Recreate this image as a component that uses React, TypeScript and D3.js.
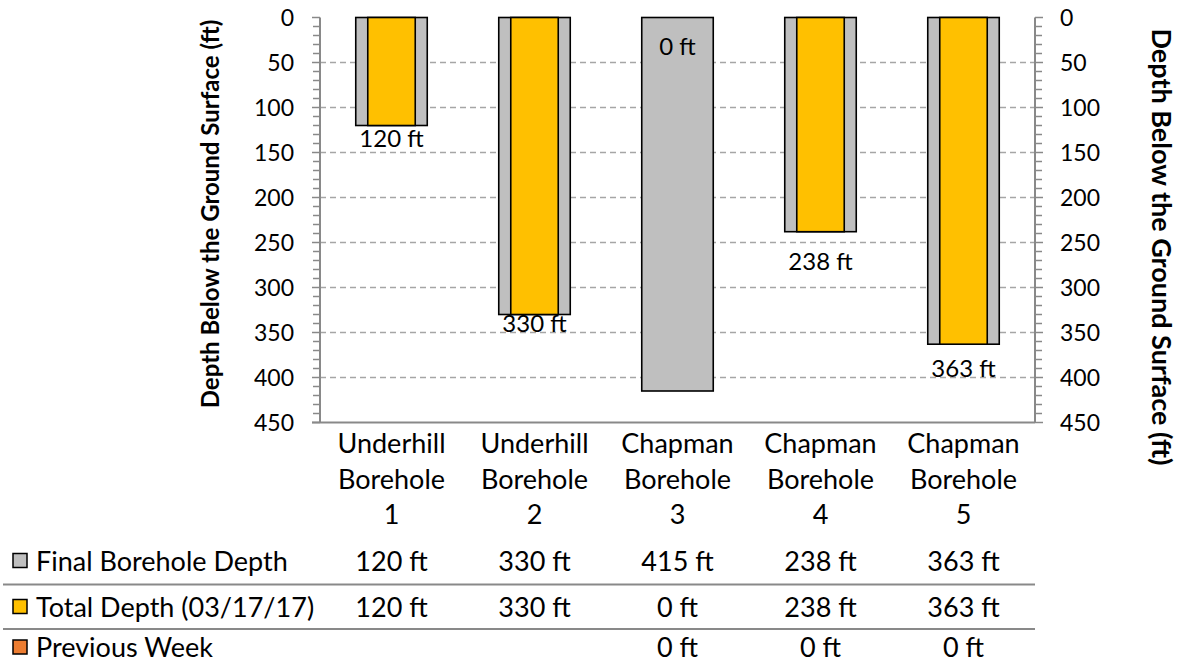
import React from "react";
import * as d3 from "d3";

const categoryLines: string[][] = [
  ["Underhill", "Borehole", "1"],
  ["Underhill", "Borehole", "2"],
  ["Chapman", "Borehole", "3"],
  ["Chapman", "Borehole", "4"],
  ["Chapman", "Borehole", "5"],
];
const categories = categoryLines.map((l) => l.join(" "));
const finalDepth = [120, 330, 415, 238, 363];
const totalDepth = [120, 330, 0, 238, 363];
const previousWeek: (number | null)[] = [null, null, 0, 0, 0];
const majorTicks = [0, 50, 100, 150, 200, 250, 300, 350, 400, 450];
const gridTicks = [50, 100, 150, 200, 250, 300, 350, 400];
const minorTicks = d3.range(0, 451, 10);

const seriesNames = ["Final Borehole Depth", "Total Depth (03/17/17)", "Previous Week"];
const seriesColors = ["#BFBFBF", "#FFC000", "#ED7D31"];

// layout (pixel offsets of value labels below the bar end, manually placed in original)
const labelOffsets = [13.5, 9.5, 29.5, 30, 24];

const W = 1182;
const H = 664;
const FONT = "Lato, 'Noto Sans', sans-serif";

export default function App() {
  const x = d3.scaleBand<string>().domain(categories).range([320, 1035]);
  const y = d3.scaleLinear().domain([0, 450]).range([17.5, 422.5]);
  const bw = x.bandwidth();
  const cx = (i: number) => (x(categories[i]) as number) + bw / 2;
  const axisColor = "#898989";
  const tickFs = 23;
  const valFs = 24;
  const catFs = 27;
  const rowCenters = [561, 607, 647.5];
  const rows = [finalDepth, totalDepth, previousWeek];
  const fmt = (v: number | null) => (v === null ? "" : `${v} ft`);

  return (
    <svg width={W} height={H} style={{ position: "absolute", left: 0, top: 0, background: "#fff" }} fontFamily={FONT}>
      <rect x={0} y={0} width={W} height={H} fill="#fff" />
      {/* gridlines */}
      {gridTicks.map((t) => (
        <line key={"g" + t} x1={320} x2={1035} y1={y(t)} y2={y(t)} stroke="#A6A6A6" strokeWidth={1.5} strokeDasharray="6,4" />
      ))}
      {/* bars: final depth (wide, grey) */}
      {finalDepth.map((v, i) => (
        <rect key={"f" + i} x={cx(i) - bw * 0.25} width={bw * 0.5} y={y(0)} height={y(v) - y(0)} fill={seriesColors[0]} stroke="#000" strokeWidth={1.6} />
      ))}
      {/* bars: total depth (narrow, yellow) */}
      {totalDepth.map((v, i) =>
        v > 0 ? (
          <rect key={"t" + i} x={cx(i) - bw * 0.166} width={bw * 0.332} y={y(0)} height={y(v) - y(0)} fill={seriesColors[1]} stroke="#000" strokeWidth={1.6} />
        ) : null
      )}
      {/* value labels */}
      {totalDepth.map((v, i) => (
        <text key={"l" + i} x={cx(i)} y={y(v) + labelOffsets[i] + valFs * 0.35} textAnchor="middle" fontSize={valFs} fill="#000">
          {fmt(v)}
        </text>
      ))}
      {/* left axis */}
      <line x1={320} x2={320} y1={y(0)} y2={y(450)} stroke={axisColor} strokeWidth={2} />
      {minorTicks.map((t) => (
        <line key={"lm" + t} x1={t % 50 === 0 ? 312 : 313} x2={320} y1={y(t)} y2={y(t)} stroke={axisColor} strokeWidth={1.5} />
      ))}
      {majorTicks.map((t) => (
        <text key={"lt" + t} x={294} y={y(t) + tickFs * 0.36} textAnchor="end" fontSize={tickFs} fill="#000">
          {t}
        </text>
      ))}
      {/* right axis */}
      <line x1={1035} x2={1035} y1={y(0)} y2={y(450)} stroke={axisColor} strokeWidth={2} />
      {minorTicks.map((t) => (
        <line key={"rm" + t} x1={1035} x2={t % 50 === 0 ? 1043 : 1042} y1={y(t)} y2={y(t)} stroke={axisColor} strokeWidth={1.5} />
      ))}
      {majorTicks.map((t) => (
        <text key={"rt" + t} x={1060} y={y(t) + tickFs * 0.36} textAnchor="start" fontSize={tickFs} fill="#000">
          {t}
        </text>
      ))}
      {/* bottom axis */}
      <line x1={312} x2={1035} y1={y(450)} y2={y(450)} stroke={axisColor} strokeWidth={2} />
      {/* axis titles */}
      <text transform={`translate(219,214) rotate(-90)`} textAnchor="middle" fontSize={24} fontWeight="bold" fill="#000">
        Depth Below the Ground Surface (ft)
      </text>
      <text transform={`translate(1152,247) rotate(90)`} textAnchor="middle" fontSize={27} fontWeight="bold" fill="#000">
        Depth Below the Ground Surface (ft)
      </text>
      {/* category labels */}
      {categoryLines.map((lines, i) => (
        <text key={"c" + i} textAnchor="middle" fontSize={catFs} fill="#000">
          {lines.map((ln, j) => (
            <tspan key={j} x={cx(i)} y={453 + j * 35.5}>
              {ln}
            </tspan>
          ))}
        </text>
      ))}
      {/* data table */}
      {[584.5, 629].map((ly) => (
        <line key={"sep" + ly} x1={3} x2={1035} y1={ly} y2={ly} stroke={axisColor} strokeWidth={2} />
      ))}
      {seriesNames.map((name, r) => (
        <g key={"row" + r}>
          <rect x={13} y={rowCenters[r] - 7.5} width={14} height={14} fill={seriesColors[r]} stroke="#000" strokeWidth={1.5} />
          <text x={36} y={rowCenters[r] + catFs * 0.36} fontSize={catFs} fill="#000">
            {name}
          </text>
          {rows[r].map((v, i) => (
            <text key={i} x={cx(i)} y={rowCenters[r] + catFs * 0.36} textAnchor="middle" fontSize={catFs} fill="#000">
              {fmt(v)}
            </text>
          ))}
        </g>
      ))}
    </svg>
  );
}
